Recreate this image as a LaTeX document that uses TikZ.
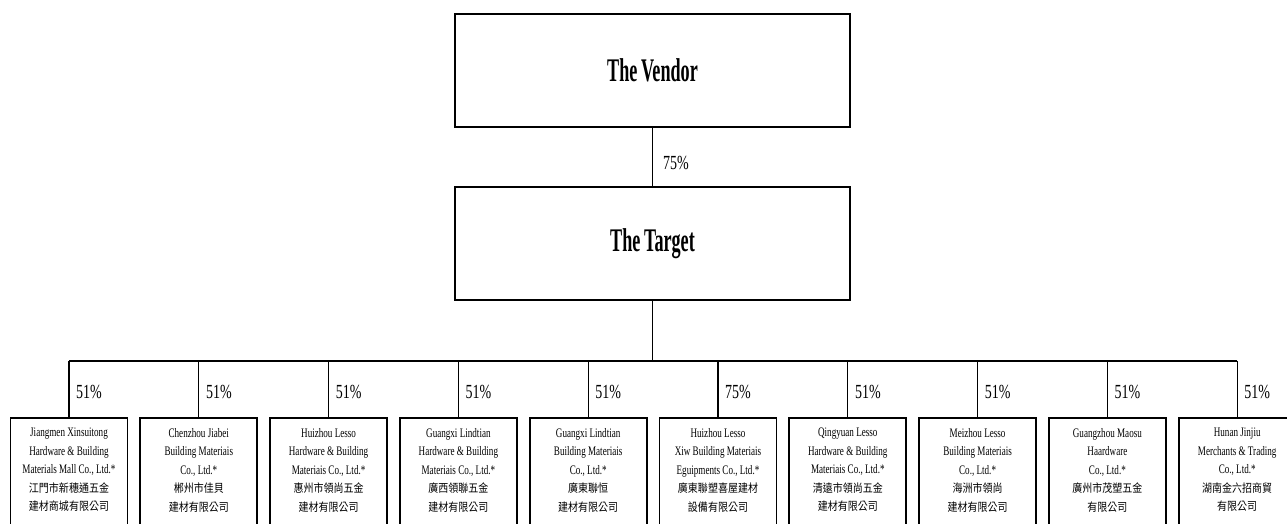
\documentclass[tikz,border=0pt]{standalone}
\usepackage{fontspec}
\setmainfont{Liberation Serif}[FakeStretch=0.7]
\newfontfamily\titlefont{Liberation Serif Bold}[FakeStretch=0.55,WordSpace=0.8]
\newfontfamily\cjkfont{Noto Sans CJK TC}[FakeStretch=0.87]
\newcommand\cjk{\cjkfont\fontsize{11.5}{18.5}\selectfont}
\usetikzlibrary{positioning}

\begin{document}
\begin{tikzpicture}[x=1pt,y=-1pt,
	topbox/.style={draw, line width=2pt, minimum width=395pt, minimum height=113pt, inner sep=0pt,
		font=\titlefont\fontsize{33}{33}\selectfont},
	subbox/.style={draw, line width=1.8pt, minimum width=117pt, minimum height=140pt, anchor=north, inner sep=0pt},
	subtext/.style={anchor=north, align=flush center, text width=117pt, inner sep=0pt,
		font=\fontsize{13}{18.5}\selectfont},
	pct/.style={anchor=west, inner sep=0pt, font=\fontsize{20}{20}\selectfont},
	link/.style={line width=1.3pt}]
	\def\XMAX{1287}
	\def\YMAX{524}
	%固定画布大小并裁剪
	\useasboundingbox (0,0) rectangle (\XMAX,\YMAX);
	\clip (0,0) rectangle (\XMAX,\YMAX);
	
	%绘制上面两个方框
	\node [topbox] (vendor) at (652.5,70.5) {The Vendor};
	\node [topbox] (target) at (652.5,243.5) {The Target};
	\draw [link] (vendor) -- (target);
	\node [pct] (vt) at (663,163) {75\%};
	
	%总线
	\coordinate (bus) at (652.5,361);
	\draw [link] (target) -- (bus);
	
	%绘制下面十个子公司
	\foreach \i/\pc/\en/\zh in {
		0/51/{Jiangmen Xinsuitong\\Hardware \& Building\\Materials Mall Co., Ltd.*}/{江門市新穗通五金\\建材商城有限公司},
		1/51/{Chenzhou Jiabei\\Building Materiais\\Co., Ltd.*}/{郴州市佳貝\\建材有限公司},
		2/51/{Huizhou Lesso\\Hardware \& Building\\Materiais Co., Ltd.*}/{惠州市領尚五金\\建材有限公司},
		3/51/{Guangxi Lindtian\\Hardware \& Building\\Materiais Co., Ltd.*}/{廣西領聯五金\\建材有限公司},
		4/51/{Guangxi Lindtian\\Building Materiais\\Co., Ltd.*}/{廣東聯恒\\建材有限公司},
		5/75/{Huizhou Lesso\\Xiw Building Materiais\\Eguipments Co., Ltd.*}/{廣東聯塑喜屋建材\\設備有限公司},
		6/51/{Qingyuan Lesso\\Hardware \& Building\\Materiais Co., Ltd.*}/{清遠市領尚五金\\建材有限公司},
		7/51/{Meizhou Lesso\\Building Materiais\\Co., Ltd.*}/{海洲市領尚\\建材有限公司},
		8/51/{Guangzhou Maosu\\Haardware\\Co., Ltd.*}/{廣州市茂塑五金\\有限公司},
		9/51/{Hunan Jinjiu\\Merchants \& Trading\\Co., Ltd.*}/{湖南金六招商貿\\有限公司}}
	{
		\node [subbox] (s\i) at (69+129.8*\i,417) {};
		\node [subtext, below=11pt of s\i.north] (t\i) {\en\\\cjk\zh};
		\draw [link] (bus -| s\i.north) -- (s\i.north);
		\node [pct] (p\i) at (76+129.8*\i,392) {\pc\%};
	}
	%横线
	\draw [link] (bus -| s0.north) -- (bus -| s9.north);
\end{tikzpicture}
\end{document}
